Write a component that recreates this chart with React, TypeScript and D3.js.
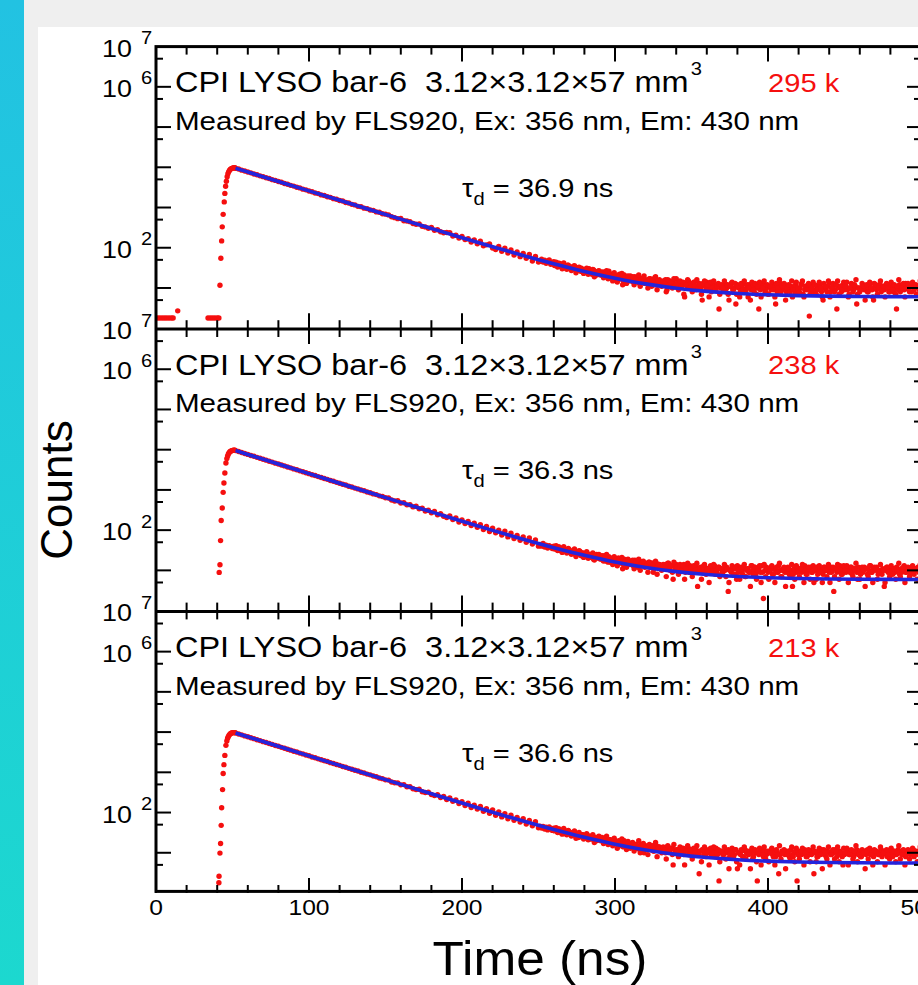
import React from 'react';
import * as d3 from 'd3';

// ---------------- data ----------------
const X_MAJOR_TICKS = [0, 100, 200, 300, 400, 500];
const X_TICK_LABELS = ['0', '100', '200', '300', '400', '500'];
const Y_LABEL_EXPONENTS = [7, 6, 2];
const TITLES = ['CPI LYSO bar-6  3.12×3.12×57 mm', 'CPI LYSO bar-6  3.12×3.12×57 mm', 'CPI LYSO bar-6  3.12×3.12×57 mm'];
const MEASURED = 'Measured by FLS920, Ex: 356 nm, Em: 430 nm';
const TOTAL_COUNTS = ['295 k', '238 k', '213 k'];
const TAU_VALUES = ['36.9', '36.3', '36.6'];

// pre-trigger points [time ns, counts]
const PRE1: [number, number][] = [[1, 1.8], [2.5, 1.8], [4, 1.8], [5.5, 1.8], [7, 1.8], [8.5, 1.8], [10, 1.8], [11.2, 1.8], [14.2, 2.7], [34, 1.8], [35.5, 1.8], [37, 1.8], [38.5, 1.8], [40, 1.8], [41.1, 1.8]];
const PRE2: [number, number][] = [];
const PRE3: [number, number][] = [];

// rising edge [time ns, counts]
const RISE1: [number, number][] = [[41.8, 11.7], [42.4, 55], [42.9, 148], [43.3, 331], [43.9, 676], [44.6, 1380], [45.0, 2240], [45.5, 3390], [46.0, 4500], [46.5, 5800], [47.0, 6900], [47.5, 7700], [48.0, 8300], [48.5, 8800], [49.0, 9150], [49.5, 9400], [50.0, 9550], [50.5, 9650], [51.0, 9700], [51.5, 9700]];
const RISE2: [number, number][] = [[41.3, 8.9], [41.8, 13.8], [42.2, 55], [42.6, 174], [43.3, 355], [43.9, 870], [44.4, 1480], [45.0, 2630], [45.7, 4680], [46.3, 6000], [46.8, 7000], [47.3, 7800], [47.8, 8400], [48.3, 8900], [48.8, 9200], [49.4, 9450], [50.0, 9600], [50.6, 9700], [51.1, 9720], [51.6, 9700]];
const RISE3: [number, number][] = [[41.1, 1.8], [41.2, 2.6], [41.8, 9.8], [42.2, 17], [42.6, 48], [42.9, 132], [43.5, 372], [43.9, 933], [44.4, 1550], [45.0, 2630], [45.7, 4680], [46.3, 6000], [46.8, 7000], [47.3, 7800], [47.8, 8400], [48.3, 8900], [48.8, 9200], [49.4, 9450], [50.0, 9600], [50.6, 9700], [51.1, 9720], [51.6, 9700]];

// decay, 52 .. 250 ns every 2 ns
const DECAY_T0 = 52;
const DECAY_STEP = 2;
const DECAY1 = [
  9480, 9030, 8490, 8100, 7620, 7270, 6830, 6520, 6130, 5850,
  5500, 5260, 4930, 4720, 4420, 4240, 3970, 3800, 3560, 3410,
  3190, 3070, 2860, 2750, 2570, 2470, 2300, 2220, 2060, 1990,
  1850, 1790, 1660, 1610, 1490, 1450, 1330, 1300, 1200, 1160,
  1070, 1050, 965, 940, 865, 850, 778, 762, 698, 684,
  655, 590, 560, 528, 535, 470, 462, 445, 400, 385,
  392, 340, 330, 305, 318, 272, 280, 250, 236, 240,
  238, 195, 205, 175, 192, 160, 168, 138, 156, 126,
  146, 112, 118, 124, 98, 90, 108, 82, 97, 74,
  88, 66, 79, 60, 72, 55, 68, 47, 61, 44,
];
const DECAY2 = [
  9490, 8980, 8520, 8030, 7630, 7200, 6840, 6440, 6120, 5780,
  5490, 5170, 4920, 4630, 4400, 4150, 3950, 3720, 3540, 3330,
  3170, 2980, 2840, 2670, 2540, 2390, 2280, 2140, 2040, 1920,
  1830, 1720, 1640, 1540, 1470, 1380, 1320, 1235, 1180, 1110,
  1060, 992, 950, 888, 852, 795, 765, 712, 684, 640,
  628, 560, 532, 540, 472, 480, 425, 430, 378, 392,
  340, 352, 300, 312, 270, 292, 240, 258, 222, 206,
  226, 184, 200, 160, 180, 146, 164, 130, 148, 118,
  136, 104, 124, 92, 112, 86, 100, 76, 94, 68,
  84, 62, 74, 56, 68, 50, 64, 45, 57, 40,
];
const DECAY3 = [
  9500, 8970, 8530, 8040, 7650, 7210, 6860, 6460, 6150, 5790,
  5510, 5190, 4940, 4650, 4430, 4170, 3970, 3740, 3560, 3350,
  3200, 3000, 2870, 2690, 2570, 2410, 2300, 2160, 2060, 1940,
  1850, 1740, 1660, 1560, 1490, 1400, 1335, 1255, 1195, 1125,
  1075, 1005, 965, 903, 865, 808, 776, 725, 695, 650,
  640, 575, 548, 545, 488, 495, 436, 440, 392, 372,
  380, 330, 314, 322, 282, 264, 276, 236, 250, 210,
  230, 190, 205, 168, 186, 150, 170, 134, 152, 122,
  142, 108, 124, 96, 116, 86, 104, 78, 94, 70,
  86, 64, 76, 58, 70, 52, 64, 47, 59, 42,
];

// tail, 251 .. 500 ns every 1 ns
const TAIL_T0 = 251;
const TAIL1 = [
  47, 52, 44, 49, 41, 46, 50, 39, 43, 45,
  38, 42, 36, 40, 33, 39, 35, 31, 37, 34,
  33, 29, 35, 30, 27, 32, 28, 31, 25, 29,
  27, 24, 30, 26, 22, 28, 25, 21, 26, 23,
  24, 20, 25, 19, 22, 26, 18, 21, 23, 17,
  20, 16, 22, 19, 12, 21, 17, 19, 15, 20,
  17, 14, 19, 16, 18, 13, 17, 15, 20, 14,
  16, 13, 17, 11, 15, 18, 14, 12, 16, 13,
  14, 12, 16, 9, 13, 15, 11, 14, 12, 17,
  13, 10, 14, 12, 7, 13, 11, 15, 12, 10,
  12, 14, 9, 11, 13, 10, 5, 12, 11, 14,
  10, 12, 8, 13, 11, 9, 12, 3, 10, 11,
  9, 12, 10, 7, 11, 13, 9, 10, 4, 12,
  10, 8, 11, 13, 9, 10, 6, 12, 9, 11,
  8, 12, 10, 3, 9, 11, 13, 8, 10, 7,
  11, 9, 12, 10, 4, 8, 11, 13, 9, 10,
  12, 8, 10, 9, 11, 6, 10, 12, 8, 9,
  10, 13, 7, 9, 11, 10, 2, 9, 12, 8,
  9, 11, 10, 12, 8, 5, 10, 9, 11, 13,
  8, 10, 12, 9, 3, 11, 10, 8, 12, 9,
  11, 9, 7, 10, 12, 9, 11, 4, 10, 8,
  10, 12, 9, 11, 8, 10, 13, 9, 5, 11,
  9, 10, 12, 8, 11, 9, 10, 12, 8, 10,
  11, 8, 10, 3, 9, 12, 10, 11, 9, 13,
  10, 9, 11, 8, 12, 10, 7, 11, 9, 10,
];
const TAIL2 = [
  44, 40, 47, 38, 42, 36, 41, 39, 35, 40,
  37, 33, 38, 31, 35, 30, 34, 32, 28, 33,
  30, 27, 31, 25, 29, 26, 30, 23, 27, 25,
  26, 22, 25, 21, 24, 19, 23, 25, 20, 22,
  21, 18, 23, 17, 20, 22, 16, 19, 21, 15,
  18, 20, 15, 17, 11, 19, 16, 18, 14, 17,
  16, 13, 18, 15, 12, 17, 14, 16, 13, 15,
  14, 16, 12, 15, 9, 13, 15, 12, 14, 11,
  13, 11, 14, 12, 15, 10, 13, 6, 12, 14,
  11, 13, 10, 12, 14, 9, 12, 11, 13, 10,
  12, 10, 13, 4, 11, 12, 9, 13, 10, 11,
  10, 12, 9, 11, 13, 10, 8, 12, 11, 9,
  11, 10, 12, 3, 10, 9, 12, 11, 8, 13,
  9, 11, 10, 12, 7, 10, 11, 9, 13, 10,
  12, 8, 10, 11, 9, 13, 2, 10, 12, 9,
  10, 12, 8, 11, 10, 9, 13, 10, 7, 11,
  9, 11, 12, 8, 10, 4, 11, 9, 12, 10,
  11, 9, 10, 13, 8, 11, 10, 12, 9, 5,
  10, 12, 9, 11, 10, 8, 12, 10, 11, 9,
  12, 10, 3, 11, 9, 10, 13, 8, 11, 10,
  9, 11, 10, 12, 8, 10, 11, 9, 12, 6,
  10, 9, 12, 11, 8, 10, 13, 9, 11, 10,
  12, 8, 10, 9, 11, 4, 10, 12, 9, 11,
  10, 11, 9, 12, 10, 8, 11, 10, 13, 9,
  11, 10, 8, 12, 9, 11, 10, 12, 9, 10,
];
const TAIL3 = [
  46, 41, 45, 39, 43, 37, 44, 40, 36, 41,
  38, 35, 39, 32, 36, 33, 30, 35, 31, 34,
  31, 28, 32, 27, 30, 24, 29, 26, 28, 25,
  27, 23, 26, 22, 25, 21, 24, 20, 23, 22,
  21, 19, 23, 18, 20, 17, 21, 19, 16, 20,
  18, 16, 19, 15, 17, 20, 14, 17, 16, 13,
  17, 14, 16, 13, 15, 12, 16, 14, 10, 15,
  13, 15, 12, 14, 11, 13, 15, 12, 14, 11,
  13, 12, 10, 14, 12, 11, 13, 5, 12, 11,
  12, 10, 13, 11, 9, 12, 11, 13, 10, 12,
  11, 9, 12, 10, 3, 11, 12, 9, 11, 10,
  12, 10, 9, 11, 10, 13, 9, 2, 11, 10,
  9, 11, 10, 12, 8, 10, 11, 9, 12, 4,
  10, 9, 11, 8, 12, 10, 9, 11, 10, 7,
  11, 10, 2, 9, 12, 10, 8, 11, 9, 10,
  10, 12, 9, 11, 8, 10, 3, 9, 11, 10,
  9, 11, 10, 8, 12, 9, 10, 11, 2, 9,
  11, 9, 10, 12, 8, 10, 9, 11, 10, 3,
  10, 8, 11, 9, 12, 10, 9, 8, 11, 10,
  9, 11, 10, 12, 8, 9, 11, 10, 5, 9,
  10, 12, 9, 11, 10, 8, 10, 12, 9, 11,
  8, 10, 11, 9, 12, 10, 9, 11, 8, 10,
  11, 9, 10, 12, 9, 11, 10, 8, 10, 12,
  9, 11, 10, 9, 12, 10, 11, 9, 10, 8,
  10, 11, 9, 10, 12, 9, 10, 11, 9, 10,
];

// interleaved tail bins, 260.5 .. 499.5 ns every 1 ns
const TAILB_T0 = 260.5;
const TAILB1 = [
  36, 44, 33, 41, 38, 30, 42, 35, 29, 37,
  34, 27, 31, 36, 24, 30, 33, 26, 29, 23,
  28, 31, 22, 27, 24, 29, 19, 25, 23, 27,
  21, 25, 18, 23, 27, 17, 22, 20, 15, 24,
  19, 14, 21, 17, 23, 15, 18, 13, 20, 16,
  15, 19, 12, 17, 14, 21, 11, 16, 18, 13,
  14, 10, 17, 13, 16, 12, 19, 9, 15, 12,
  11, 15, 13, 8, 16, 12, 14, 10, 17, 11,
  13, 9, 15, 11, 14, 6, 12, 16, 10, 13,
  8, 14, 11, 16, 10, 12, 7, 13, 15, 9,
  12, 6, 14, 10, 15, 9, 11, 13, 7, 12,
  10, 15, 8, 12, 5, 11, 14, 9, 13, 7,
  11, 6, 13, 9, 15, 8, 12, 10, 5, 14,
  9, 13, 7, 11, 14, 6, 10, 15, 8, 12,
  7, 11, 14, 9, 6, 13, 10, 16, 8, 11,
  13, 5, 10, 12, 8, 15, 9, 7, 14, 10,
  8, 12, 15, 6, 11, 9, 13, 7, 10, 14,
  12, 7, 9, 14, 10, 6, 13, 11, 8, 15,
  6, 10, 13, 8, 12, 15, 7, 11, 9, 14,
  11, 14, 6, 10, 13, 8, 12, 16, 7, 10,
  9, 13, 11, 5, 12, 8, 14, 10, 6, 13,
  12, 7, 10, 15, 9, 11, 6, 13, 10, 8,
  14, 9, 12, 7, 11, 16, 8, 10, 13, 6,
  10, 13, 8, 11, 14, 9, 12, 7, 10, 15,
];
const TAILB2 = [
  34, 41, 31, 38, 35, 28, 39, 32, 27, 35,
  31, 25, 29, 34, 22, 28, 31, 24, 27, 21,
  26, 29, 20, 25, 22, 27, 18, 23, 21, 25,
  19, 23, 17, 21, 25, 16, 20, 18, 14, 22,
  18, 13, 20, 16, 21, 14, 17, 12, 19, 15,
  14, 18, 11, 16, 13, 19, 10, 15, 17, 12,
  13, 9, 16, 12, 15, 11, 17, 8, 14, 11,
  10, 14, 12, 7, 15, 11, 13, 9, 16, 10,
  12, 8, 14, 10, 13, 6, 11, 15, 9, 12,
  7, 13, 10, 15, 9, 11, 6, 12, 14, 8,
  11, 5, 13, 9, 14, 8, 10, 12, 7, 11,
  9, 14, 7, 11, 5, 10, 13, 8, 12, 6,
  10, 6, 12, 8, 14, 7, 11, 9, 4, 13,
  8, 12, 6, 10, 13, 5, 9, 14, 7, 11,
  6, 10, 13, 8, 5, 12, 9, 15, 7, 10,
  12, 4, 9, 11, 7, 14, 8, 6, 13, 9,
  7, 11, 14, 5, 10, 8, 12, 6, 9, 13,
  11, 6, 8, 13, 9, 5, 12, 10, 7, 14,
  5, 9, 12, 7, 11, 14, 6, 10, 8, 13,
  10, 13, 5, 9, 12, 7, 11, 15, 6, 9,
  8, 12, 10, 4, 11, 7, 13, 9, 5, 12,
  11, 6, 9, 14, 8, 10, 5, 12, 9, 7,
  13, 8, 11, 6, 10, 15, 7, 9, 12, 5,
  9, 12, 7, 10, 13, 8, 11, 6, 9, 14,
];
const TAILB3 = [
  35, 42, 32, 39, 36, 29, 40, 33, 28, 36,
  32, 26, 30, 35, 23, 29, 32, 25, 28, 22,
  27, 30, 21, 26, 23, 28, 18, 24, 22, 26,
  20, 24, 17, 22, 26, 16, 21, 19, 15, 23,
  18, 13, 20, 16, 22, 14, 17, 12, 19, 15,
  15, 18, 11, 16, 13, 20, 10, 15, 17, 12,
  13, 9, 16, 12, 15, 11, 18, 8, 14, 11,
  10, 14, 12, 7, 15, 11, 13, 9, 16, 10,
  12, 8, 14, 10, 13, 5, 11, 15, 9, 12,
  7, 13, 10, 15, 9, 11, 6, 12, 14, 8,
  11, 5, 13, 9, 14, 8, 10, 12, 6, 11,
  9, 14, 7, 11, 4, 10, 13, 8, 12, 6,
  10, 5, 12, 8, 14, 7, 11, 9, 4, 13,
  8, 12, 6, 10, 13, 5, 9, 14, 7, 11,
  6, 10, 13, 8, 5, 12, 9, 15, 7, 10,
  12, 4, 9, 11, 7, 14, 8, 6, 13, 9,
  7, 11, 13, 5, 10, 8, 12, 6, 9, 14,
  11, 6, 8, 13, 9, 4, 12, 10, 7, 14,
  5, 9, 12, 7, 11, 14, 6, 10, 8, 13,
  10, 13, 5, 9, 12, 7, 11, 15, 6, 9,
  8, 12, 10, 4, 11, 7, 13, 9, 5, 12,
  11, 6, 9, 14, 8, 10, 5, 12, 9, 7,
  13, 8, 11, 6, 10, 15, 7, 9, 12, 5,
  9, 12, 7, 10, 13, 8, 11, 6, 9, 14,
];

// fitted curves (blue), sampled
const FIT_T = [52, 60, 80, 100, 120, 140, 160, 180, 200, 220, 240, 260, 280, 300, 320, 340, 360, 380, 400, 420, 440, 460, 480, 500];
const FIT1 = [9500, 7652, 4453, 2592, 1510, 881, 515, 302, 178, 106, 64.2, 39.9, 25.7, 17.5, 12.66, 9.88, 8.25, 7.31, 6.76, 6.44, 6.26, 6.16, 6.09, 6.05];
const FIT2 = [9500, 7623, 4396, 2537, 1464, 847, 490, 285, 167, 98.7, 59.4, 36.7, 23.7, 16.1, 11.8, 9.3, 7.86, 7.03, 6.55, 6.28, 6.12, 6.02, 5.97, 5.94];
const FIT3 = [9500, 7637, 4424, 2564, 1487, 863, 502, 293, 172, 101.9, 61.3, 37.8, 24.2, 16.3, 11.77, 9.13, 7.6, 6.72, 6.2, 5.91, 5.74, 5.64, 5.58, 5.55];

// ---------------- layout ----------------
const W = 918;
const H = 985;
const SX = 1.12;
const FONT = '"Liberation Sans", Arial, Helvetica, sans-serif';
const PLOT_L = 156;
const PLOT_R = 921;
const PANEL_TOPS = [46.6, 329, 611.4];
const PANEL_H = 281.6;
const RED = '#f50f0f';
const BLUE = '#2424dc';

type TProps = { x: number; y: number; size: number; anchor?: string; fill?: string; sx?: number; children: React.ReactNode };
const T = ({ x, y, size, anchor = 'start', fill = '#000', sx = SX, children }: TProps) => (
  <text
    transform={`translate(${x},${y}) scale(${sx},1)`}
    fontSize={size}
    textAnchor={anchor}
    fill={fill}
    fontFamily={FONT}
    style={{ whiteSpace: 'pre' }}
  >
    {children}
  </text>
);

const PANELS = [
  { pre: PRE1, rise: RISE1, decay: DECAY1, tail: TAIL1, tailB: TAILB1, fit: FIT1 },
  { pre: PRE2, rise: RISE2, decay: DECAY2, tail: TAIL2, tailB: TAILB2, fit: FIT2 },
  { pre: PRE3, rise: RISE3, decay: DECAY3, tail: TAIL3, tailB: TAILB3, fit: FIT3 },
];

export default function App() {
  const x = d3.scaleLinear().domain([0, 500]).range([PLOT_L, PLOT_R]);
  const xMinor = d3.range(0, 501, 20);
  const decades = [1, 2, 3, 4, 5, 6];
  const minorVals = [0, 1, 2, 3, 4, 5, 6].map((k) => 5 * Math.pow(10, k));

  return (
    <svg width={W} height={H} style={{ position: 'absolute', left: 0, top: 0, display: 'block' }}>
      <defs>
        <linearGradient id="cyanbar" x1="0" y1="0" x2="0" y2="1">
          <stop offset="0" stopColor="#22c2e2" />
          <stop offset="1" stopColor="#1cd8cf" />
        </linearGradient>
        <clipPath id="plotclip">
          <rect x={PLOT_L} y={PANEL_TOPS[0]} width={PLOT_R - PLOT_L} height={PANEL_H * 3 + 2} />
        </clipPath>
      </defs>
      <rect x={0} y={0} width={W} height={H} fill="#efefef" />
      <rect x={0} y={0} width={24} height={H} fill="url(#cyanbar)" />
      <rect x={38} y={27} width={W - 38} height={H - 27} fill="#ffffff" />

      {PANELS.map((p, pi) => {
        const top = PANEL_TOPS[pi];
        const bottom = top + PANEL_H;
        const y = d3.scaleLog().domain([1, 1e7]).range([bottom, top]);
        const pts: [number, number][] = [
          ...p.pre,
          ...p.rise,
          ...p.decay.map((v, i) => [DECAY_T0 + i * DECAY_STEP, v] as [number, number]),
          ...p.tail.map((v, i) => [TAIL_T0 + i, v] as [number, number]),
          ...p.tailB.map((v, i) => [TAILB_T0 + i, v] as [number, number]),
        ];
        const line = d3
          .line<number>()
          .x((_, i) => x(FIT_T[i]))
          .y((v) => y(v))
          .curve(d3.curveMonotoneX);
        const dy = top - PANEL_TOPS[0];
        return (
          <g key={pi}>
            <g clipPath="url(#plotclip)">
              {pts.map(([t, v], i) => (
                <circle key={i} cx={x(t)} cy={y(v)} r={2.7} fill={RED} />
              ))}
              <path d={line(p.fit) || ''} fill="none" stroke={BLUE} strokeWidth={3.6} />
            </g>
            {decades.map((d) => (
              <g key={'d' + d}>
                <line x1={PLOT_L} x2={PLOT_L + 15} y1={y(Math.pow(10, d))} y2={y(Math.pow(10, d))} stroke="#000" strokeWidth={2} />
                <line x1={PLOT_R} x2={PLOT_R - 14} y1={y(Math.pow(10, d))} y2={y(Math.pow(10, d))} stroke="#000" strokeWidth={2} />
              </g>
            ))}
            {minorVals.map((m) => (
              <g key={'m' + m}>
                <line x1={PLOT_L} x2={PLOT_L + 7} y1={y(m)} y2={y(m)} stroke="#000" strokeWidth={2} />
                <line x1={PLOT_R} x2={PLOT_R - 7} y1={y(m)} y2={y(m)} stroke="#000" strokeWidth={2} />
              </g>
            ))}
            {xMinor.map((t) => {
              const len = t % 100 === 0 ? 15 : 8;
              return (
                <g key={'x' + t}>
                  <line x1={x(t)} x2={x(t)} y1={top} y2={top + len} stroke="#000" strokeWidth={2} />
                  <line x1={x(t)} x2={x(t)} y1={bottom} y2={bottom - len} stroke="#000" strokeWidth={2} />
                </g>
              );
            })}
            {Y_LABEL_EXPONENTS.map((e) => (
              <g key={'yl' + e}>
                <T x={132} y={y(Math.pow(10, e)) + 10} size={24} anchor="end">10</T>
                <T x={141} y={y(Math.pow(10, e)) - 2.5} size={18}>{String(e)}</T>
              </g>
            ))}
            <T x={175} y={92.3 + dy} size={29}>
              {TITLES[pi]}
              <tspan dx={2} dy={-17} fontSize={18}>3</tspan>
            </T>
            <T x={768} y={92 + dy} size={26} fill={RED}>{TOTAL_COUNTS[pi]}</T>
            <T x={175} y={130 + dy} size={26.4}>{MEASURED}</T>
            <T x={462} y={196.7 + dy} size={26}>
              τ<tspan fontSize={18} dy={8}>d</tspan>
              <tspan fontSize={26} dy={-8}>{' = ' + TAU_VALUES[pi] + ' ns'}</tspan>
            </T>
          </g>
        );
      })}

      <rect
        x={PLOT_L}
        y={PANEL_TOPS[0]}
        width={PLOT_R - PLOT_L}
        height={PANEL_H * 3}
        fill="none"
        stroke="#000"
        strokeWidth={3}
      />
      <line x1={PLOT_L} x2={PLOT_R} y1={PANEL_TOPS[1]} y2={PANEL_TOPS[1]} stroke="#000" strokeWidth={3} />
      <line x1={PLOT_L} x2={PLOT_R} y1={PANEL_TOPS[2]} y2={PANEL_TOPS[2]} stroke="#000" strokeWidth={3} />

      {X_MAJOR_TICKS.map((t, i) => (
        <T key={'xl' + t} x={x(t)} y={915} size={22} anchor="middle">{X_TICK_LABELS[i]}</T>
      ))}

      <T x={540} y={975} size={48} anchor="middle" sx={1.07}>Time (ns)</T>
      <text
        transform="translate(72,490) rotate(-90)"
        fontSize={44}
        textAnchor="middle"
        fontFamily={FONT}
        fill="#000"
      >
        Counts
      </text>
    </svg>
  );
}
